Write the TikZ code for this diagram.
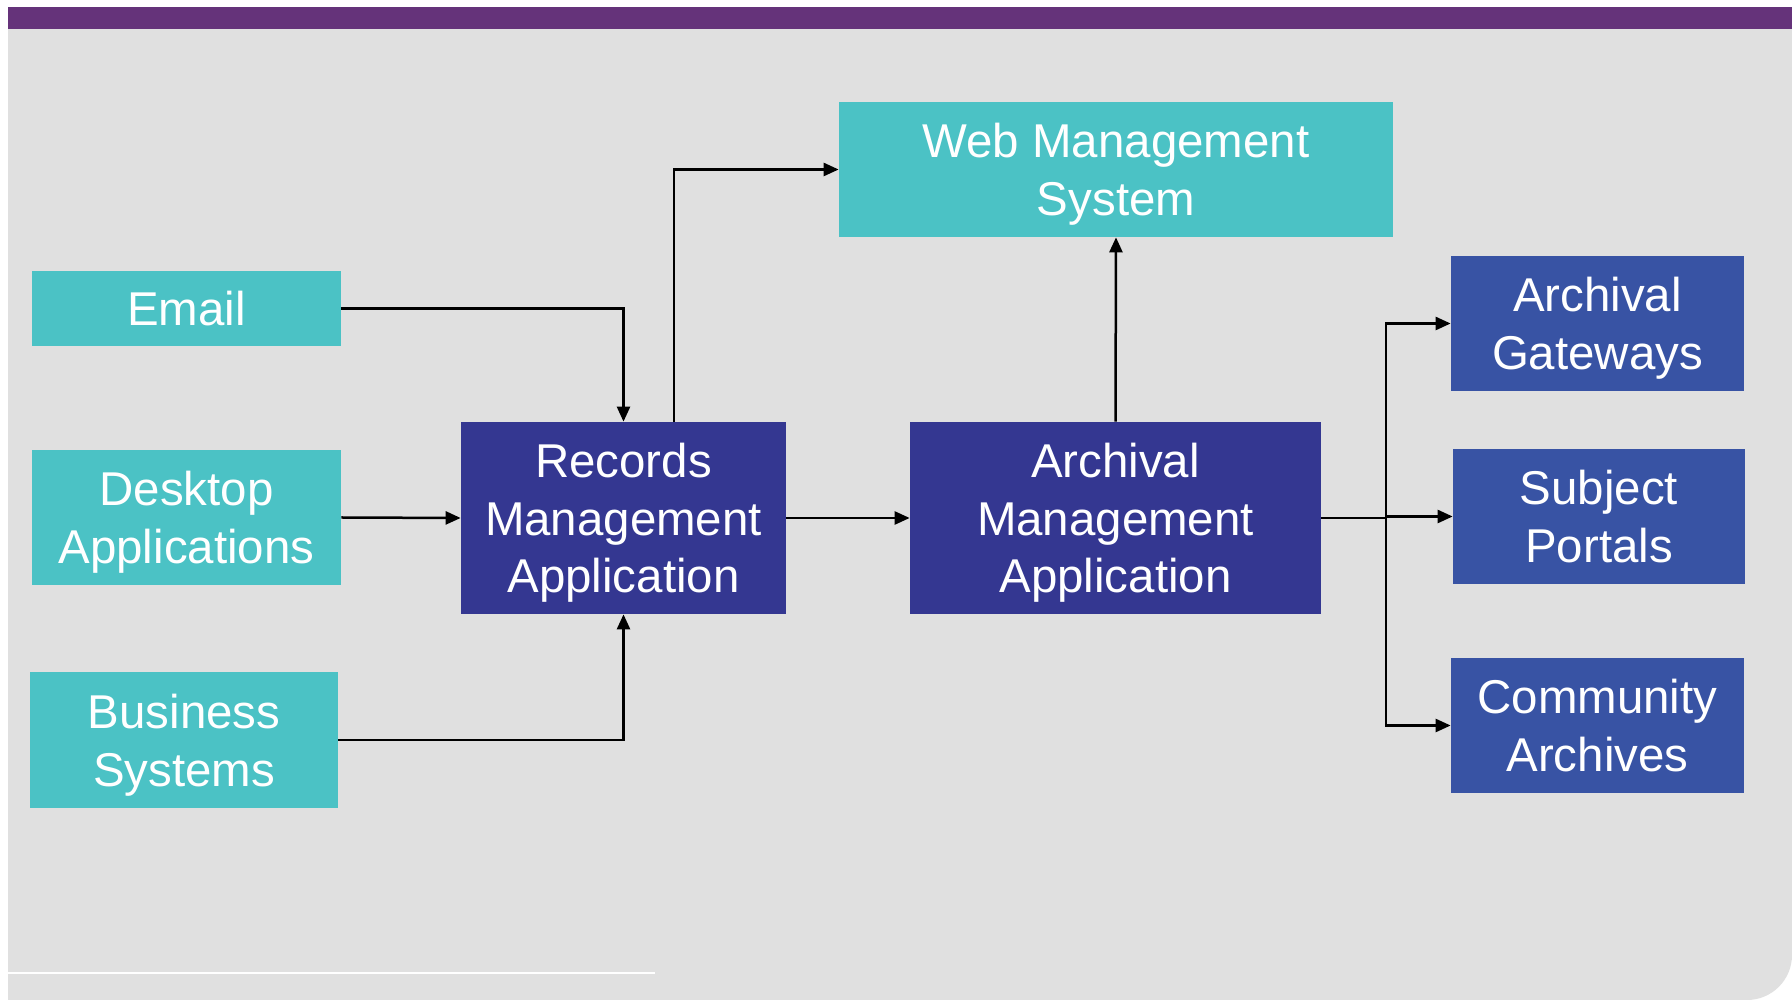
\documentclass[tikz,border=0pt]{standalone}
\usepackage{fontspec}
\setmainfont{Liberation Sans}
\usetikzlibrary{arrows.meta}

\definecolor{slidegray}{RGB}{224,224,224}
\definecolor{barpurple}{RGB}{101,51,122}
\definecolor{srcteal}{RGB}{75,194,197}
\definecolor{appnavy}{RGB}{52,55,145}
\definecolor{outblue}{RGB}{56,83,164}

\begin{document}
\begin{tikzpicture}[
  box/.style={text=white, align=center, inner sep=0pt,
    font=\fontsize{27}{32.8}\selectfont},
  source/.style={box, fill=srcteal},
  app/.style={box, fill=appnavy},
  outlet/.style={box, fill=outblue},
  flow/.style={line width=0.05cm, -{Triangle[length=0.3cm,width=0.26cm]}}
]

%%% HELP LINES - uncomment to design/extend
% \draw[step=1cm,gray,very thin] (0,0) grid (36,20);

%% Slide background
\fill[white] (0,0) rectangle (35.84,20);
\fill[slidegray] (0.16,19.42) -- (35.84,19.42) -- (35.84,0.9)
  arc[start angle=0,end angle=-90,radius=0.9] -- (0.16,0) -- cycle;
\fill[barpurple] (0.16,19.42) rectangle (35.84,19.86);
\draw[white, line width=0.04cm] (0.16,0.54) -- (13.1,0.54);

% sources
\node[source, minimum width=6.18cm, minimum height=1.5cm] (email) at (3.73,13.83) {Email};
\node[source, minimum width=6.18cm, minimum height=2.7cm] (desktop) at (3.73,9.65) {Desktop\\\smash{Applications}};
\node[source, minimum width=6.16cm, minimum height=2.72cm] (business) at (3.68,5.2) {Business\\\smash{Systems}};

% applications
\node[app, minimum width=6.5cm, minimum height=3.84cm] (rma) at (12.47,9.64) {Records\\Management\\\smash{Application}};
\node[app, minimum width=8.22cm, minimum height=3.84cm] (ama) at (22.31,9.64) {Archival\\Management\\\smash{Application}};
\node[source, minimum width=11.08cm, minimum height=2.7cm] (wms) at (22.32,16.61) {Web Management\\\smash{System}};

% outlets
\node[outlet, minimum width=5.86cm, minimum height=2.7cm] (gateways) at (31.95,13.53) {Archival\\\smash{Gateways}};
\node[outlet, minimum width=5.84cm, minimum height=2.7cm] (portals) at (31.98,9.67) {Subject\\\smash{Portals}};
\node[outlet, minimum width=5.86cm, minimum height=2.7cm] (community) at (31.95,5.49) {Community\\\smash{Archives}};

% into records management
\draw[flow] (email.east) -| (rma.north);
\draw[flow] (desktop.east) -- (rma.west);
\draw[flow] (business.east) -| (rma.south);

% records management onwards
\coordinate (rmaup) at (13.48,11.56);
\draw[flow] (rmaup) |- (wms.west);
\draw[flow] (rma.east) -- (ama.west);
\draw[flow] (ama.north) -- (wms.south);

% fan out to outlets
\coordinate (split) at (27.72,9.64);
\draw[line width=0.05cm] (ama.east) -- (split);
\draw[flow] (split) |- (gateways.west);
\draw[flow] (split) -- (split |- portals.west) -- (portals.west);
\draw[flow] (split) |- (community.west);

\end{tikzpicture}
\end{document}
